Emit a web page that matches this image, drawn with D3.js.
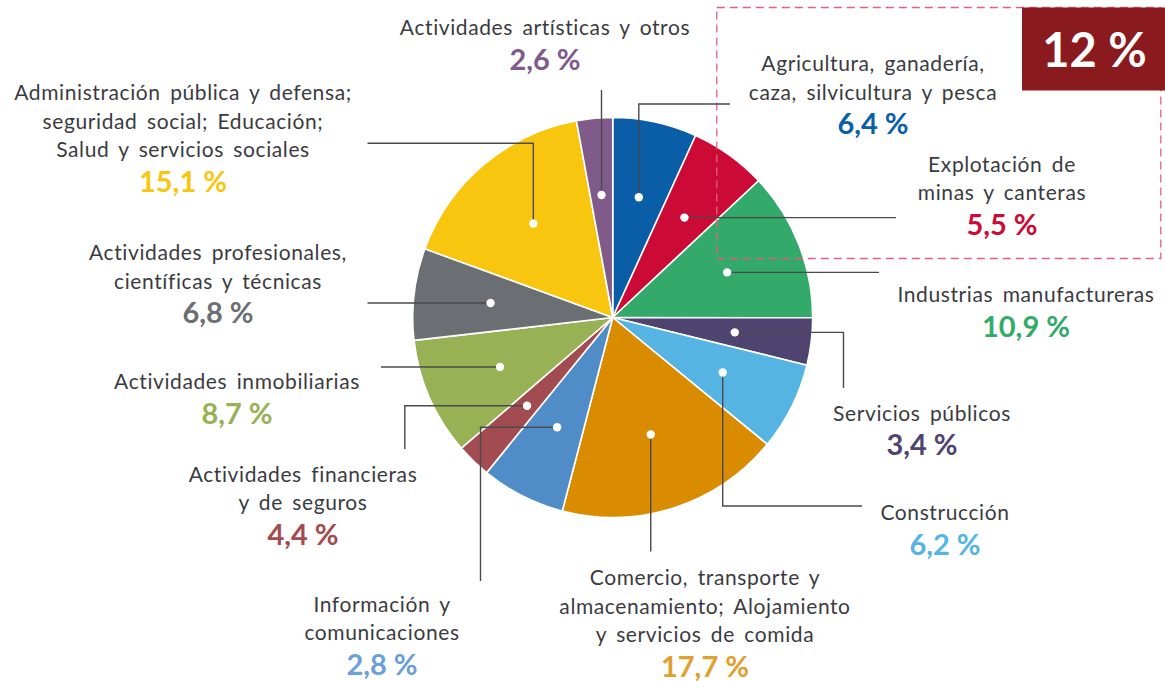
<!DOCTYPE html>
<html><head><meta charset="utf-8">
<script src="https://cdn.jsdelivr.net/npm/d3@7"></script>
<style>
html,body{margin:0;padding:0;background:#fff;}
svg{display:block;}
</style></head>
<body>
<svg id="chart" width="1165" height="681"></svg>
<script>
// ---- data (slice order, clockwise from 12 o'clock) ----
const categories = [
  "Agricultura, ganadería, caza, silvicultura y pesca",
  "Explotación de minas y canteras",
  "Industrias manufactureras",
  "Servicios públicos",
  "Construcción",
  "Comercio, transporte y almacenamiento; Alojamiento y servicios de comida",
  "Información y comunicaciones",
  "Actividades financieras y de seguros",
  "Actividades inmobiliarias",
  "Actividades profesionales, científicas y técnicas",
  "Administración pública y defensa; seguridad social; Educación; Salud y servicios sociales",
  "Actividades artísticas y otros"
];
// shares of the circle as drawn in the picture (%)
const sliceShares = [6.8, 6.2, 12.0, 3.8, 7.1, 18.1, 6.8, 2.8, 9.5, 7.4, 16.5, 2.9];
// printed percentages on the labels
const printedValues = [6.4, 5.5, 10.9, 3.4, 6.2, 17.7, 2.8, 4.4, 8.7, 6.8, 15.1, 2.6];
const sliceColors = ["#0a5ea8","#cc0a36","#33aa69","#4f4470","#55b4e1","#d98c00",
                     "#508cc8","#a24b50","#97b154","#6b6e72","#f9c60f","#805a8a"];
const labelColors = ["#0a5ea8","#cc0a36","#33aa69","#4f4470","#55b4e1","#e0a030",
                     "#6b9fd8","#a24b50","#97b154","#6b6e72","#f9c60f","#805a8a"];
const highlightValue = "12 %";

// ---- layout (positions) ----
const cx = 612.7, cy = 317.5, R = 200, dotR = 123;
const labelLayout = [
  {i:0, lines:["Agricultura, ganadería,","caza, silvicultura y pesca"], x:873, y:71, slice:0, route:[["v",104],["h",730]]},
  {i:1, lines:["Explotación de","minas y canteras"], x:1002, y:171.5, slice:1, route:[["h",896]]},
  {i:2, lines:["Industrias manufactureras"], x:1026, y:302, slice:2, route:[["h",879]]},
  {i:3, lines:["Servicios públicos"], x:922, y:420.5, slice:3, route:[["h",843.5],["v",388]]},
  {i:4, lines:["Construcción"], x:945, y:520, slice:4, route:[["v",506],["h",862]]},
  {i:5, lines:["Comercio, transporte y","almacenamiento; Alojamiento","y servicios de comida"], x:705, y:585, slice:5, route:[["v",551.5]]},
  {i:6, lines:["Información y","comunicaciones"], x:382, y:611.5, slice:6, route:[["h",480.5],["v",581]]},
  {i:7, lines:["Actividades financieras","y de seguros"], x:303, y:481.5, slice:7, route:[["h",404.8],["v",449]]},
  {i:8, lines:["Actividades inmobiliarias"], x:237, y:389, slice:8, route:[["h",381]]},
  {i:9, lines:["Actividades profesionales,","científicas y técnicas"], x:218, y:260, slice:9, route:[["h",367.5]]},
  {i:10, lines:["Administración pública y defensa;","seguridad social; Educación;","Salud y servicios sociales"], x:183, y:100, slice:10, route:[["v",143.3],["h",367.5]]},
  {i:11, lines:["Actividades artísticas y otros"], x:545, y:35, slice:11, route:[["v",90]]}
];

const svg = d3.select("#chart");
const FONT = "Lato, 'Open Sans', sans-serif";

// pie
const pie = d3.pie().sort(null).value(d => d);
const arcs = pie(sliceShares);
const arc = d3.arc().innerRadius(0).outerRadius(R);
const dotArc = d3.arc().innerRadius(dotR).outerRadius(dotR);
const g = svg.append("g").attr("transform",`translate(${cx},${cy})`);
g.selectAll("path.slice").data(arcs).join("path").attr("class","slice")
  .attr("d",arc).attr("fill",(d,i)=>sliceColors[i])
  .attr("stroke","#fff").attr("stroke-width",1.6).attr("stroke-linejoin","round");

// highlight dashed box + 12 % tag (drawn over the pie)
svg.append("rect").attr("x",716.8).attr("y",7.5).attr("width",444).attr("height",251)
  .attr("fill","none").attr("stroke","#e0627f").attr("stroke-width",1.3).attr("stroke-dasharray","8,5");
svg.append("rect").attr("x",1022).attr("y",7.5).attr("width",143).attr("height",83).attr("fill","#8b1a1f");
svg.append("text").attr("x",1094.5).attr("y",66.5).attr("text-anchor","middle")
  .attr("font-family",FONT).attr("font-weight",700).attr("font-size",47).attr("fill","#fff")
  .text(highlightValue);

// leaders
const fmt = v => d3.format(".1f")(v).replace(".",",") + " %";
labelLayout.forEach(L => {
  const [dx,dy] = dotArc.centroid(arcs[L.slice]);
  let x = cx+dx, y = cy+dy;
  const pts = [[x,y]];
  L.route.forEach(([dir,val]) => { if(dir==="v") y=val; else x=val; pts.push([x,y]); });
  svg.append("path").attr("d", d3.line()(pts)).attr("fill","none")
    .attr("stroke","#4a4a4e").attr("stroke-width",1.4);
});
// dots
svg.selectAll("circle.dot").data(arcs).join("circle").attr("class","dot")
  .attr("cx",d=>cx+dotArc.centroid(d)[0]).attr("cy",d=>cy+dotArc.centroid(d)[1])
  .attr("r",4.2).attr("fill","#fff");

// labels
labelLayout.forEach(L => {
  const t = svg.append("g");
  L.lines.forEach((line,k) => {
    t.append("text").attr("x",L.x).attr("y",L.y + k*28.5).attr("text-anchor","middle")
      .attr("font-family",FONT).attr("font-size",21).attr("letter-spacing",0.6)
      .attr("word-spacing",3.5).attr("fill","#3b3b3f").text(line);
  });
  t.append("text").attr("x",L.x).attr("y",L.y + (L.lines.length-1)*28.5 + 34.5)
    .attr("text-anchor","middle").attr("font-family",FONT).attr("font-weight",700)
    .attr("font-size",29).attr("fill",labelColors[L.i]).text(fmt(printedValues[L.i]));
});
</script>
</body></html>
